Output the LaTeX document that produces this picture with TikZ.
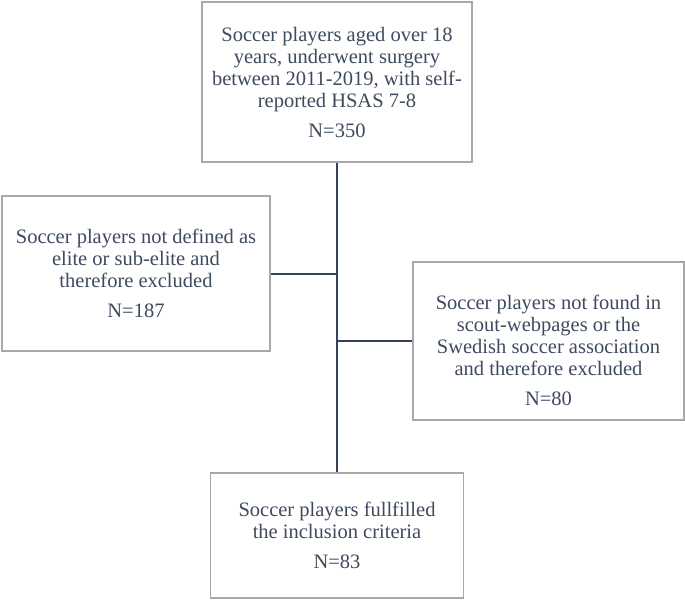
\documentclass[tikz,border=0pt]{standalone}
\usepackage{fontspec}
\setmainfont{Liberation Serif}
\begin{document}
\begin{tikzpicture}[x=1pt,y=-1pt,
  boxstyle/.style={draw=boxgray, line width=1.2pt, fill=white, align=center,
    text=txtcol, font=\fontsize{20.5}{22}\selectfont, inner sep=0pt},
  textstyle/.style={align=center, text=txtcol, font=\fontsize{20.5}{22}\selectfont, inner sep=0pt},
  linkstyle/.style={draw=linecol, line width=2.8pt}]
\definecolor{boxgray}{HTML}{A8A8A8}
\definecolor{txtcol}{HTML}{3E4A5E}
\definecolor{linecol}{HTML}{34425A}
\useasboundingbox (0,0) rectangle (685,600);
\node[boxstyle, minimum width=270pt, minimum height=160pt] (top) at (337,82)
  {Soccer players aged over 18\\ years, underwent surgery\\ between 2011-2019, with self-\\ reported HSAS 7-8\\[8pt] N=350};
\node[boxstyle, minimum width=268pt, minimum height=155pt] (left) at (136,273.5)
  {Soccer players not defined as\\ elite or sub-elite and\\ therefore excluded\\[8pt] N=187};
\node[boxstyle, minimum width=271pt, minimum height=158pt] (right) at (548.5,341) {};
\node[textstyle] (righttext) at (548.5,350)
  {Soccer players not found in\\ scout-webpages or the\\ Swedish soccer association\\ and therefore excluded\\[8pt] N=80};
\node[boxstyle, minimum width=253pt, minimum height=125pt] (bot) at (337,535.5)
  {Soccer players fullfilled\\ the inclusion criteria\\[8pt] N=83};
\coordinate (jl) at (337,274);
\coordinate (jr) at (337,341);
\coordinate (ll) at (left.east |- jl);
\draw[linkstyle] (top.south) -- (bot.north);
\draw[linkstyle] (ll) -- (jl);
\draw[linkstyle] (jr) -- (right.west);
\end{tikzpicture}
\end{document}
